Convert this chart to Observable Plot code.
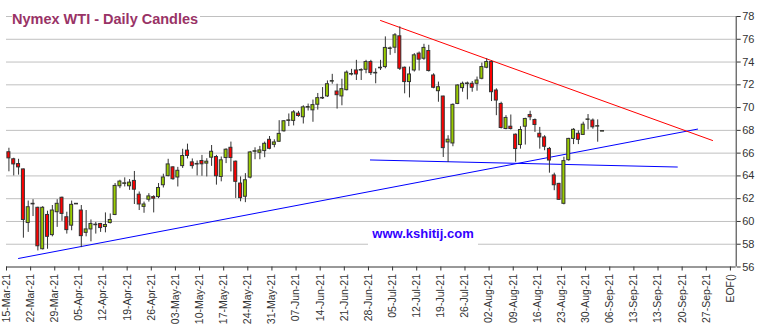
<!DOCTYPE html>
<html><head><meta charset="utf-8">
<script src="https://cdn.jsdelivr.net/npm/d3@7"></script>
<script src="https://cdn.jsdelivr.net/npm/@observablehq/plot@0.6"></script>
<style>
body{margin:0;background:#fff;}
#wrap{position:relative;width:762px;height:332px;font-family:Arial,"Liberation Sans",sans-serif;overflow:hidden;}
#title{position:absolute;left:12px;top:11px;background:#fff;padding:0 2px 0 0;font-weight:bold;font-size:14.5px;line-height:16px;color:#993366;white-space:nowrap;}
#wm{position:absolute;left:368px;top:225px;width:110px;background:#fff;text-align:center;font-weight:bold;font-size:13px;line-height:18px;padding-bottom:3px;color:#3300FF;white-space:nowrap;}
</style></head><body>
<div id="wrap"><div id="chart"></div><div id="title">Nymex WTI - Daily Candles</div><div id="wm">www.kshitij.com</div></div>
<script>
// Daily candles, one per trading-day slot (15-Mar-21 ... 03-Sep-21)
const openP = [66.08,65.46,65.04,64.57,59.86,61.55,61.2,57.56,60.57,58.8,
  60.81,62.08,60.37,59.63,61.5,60.96,59.0,59.3,59.72,59.78,
  59.51,59.86,60.57,63.09,63.3,63.09,63.56,62.35,61.28,61.91,
  62.14,62.14,63.18,63.98,64.75,63.86,64.86,66.22,65.19,65.0,
  65.31,65.08,65.6,65.66,63.91,65.57,66.47,65.25,63.33,62.17,
  63.85,66.12,66.03,66.18,67.17,66.73,67.0,67.92,68.83,68.83,
  69.47,69.15,70.0,69.76,70.25,70.8,70.98,72.28,71.41,70.98,
  71.53,72.9,73.26,73.25,73.32,74.0,73.0,73.45,73.56,75.15,
  75.26,76.26,73.5,72.24,73.26,74.74,74.29,74.97,72.82,71.44,
  70.97,66.94,66.85,70.32,71.71,72.07,72.09,72.09,72.53,73.5,
  74.0,71.5,70.32,68.12,68.32,67.62,66.71,68.32,69.35,68.91,
  67.7,67.38,66.37,64.04,63.3,61.55,65.38,67.25,67.7,67.6,
  68.92,68.86,68.33,67.89];
const highP = [66.43,65.55,65.46,64.6,61.79,61.91,61.25,61.3,60.9,61.4,
  61.91,62.14,60.81,61.79,61.56,61.4,60.96,60.13,59.92,59.83,
  60.75,60.66,63.33,63.62,63.83,63.68,64.39,62.59,61.7,62.44,
  62.26,63.33,64.15,65.46,64.8,64.75,66.34,66.79,65.49,65.31,
  65.8,65.51,66.67,65.8,65.66,66.38,66.97,65.3,63.91,64.2,
  66.15,66.47,66.59,66.97,67.46,67.17,68.85,68.85,69.44,69.73,
  69.67,70.16,70.31,70.66,71.24,71.76,72.34,72.92,72.05,72.49,
  73.22,73.36,74.15,73.41,74.15,74.15,73.41,74.15,76.21,75.32,
  76.5,77.09,73.56,73.56,74.74,74.88,75.56,75.47,72.97,72.24,
  71.0,67.53,70.32,72.0,72.24,72.24,72.29,72.68,73.91,74.29,
  74.09,71.65,70.47,69.29,69.35,67.68,68.32,69.06,69.68,69.0,
  68.26,67.53,66.5,64.24,63.35,65.64,67.3,68.15,67.95,68.72,
  69.39,69.0,68.92,67.9];
const lowP = [64.36,64.0,64.07,58.53,59.04,60.43,57.41,57.5,57.56,58.65,
  59.48,60.01,58.89,59.18,61.49,57.7,58.65,58.21,58.89,59.04,
  59.0,59.78,60.51,62.88,63.03,62.73,61.49,60.96,60.72,61.7,
  60.75,62.0,62.94,63.92,63.62,63.03,64.66,65.49,64.6,64.0,
  63.97,63.91,64.84,63.19,63.48,65.08,64.35,62.02,61.73,61.65,
  63.74,65.42,65.42,65.6,66.3,66.47,66.94,67.84,68.33,68.39,
  69.15,68.56,69.7,68.71,69.78,70.71,70.89,72.05,69.87,70.16,
  71.47,72.78,72.38,72.38,72.97,72.82,72.09,73.26,73.41,74.59,
  74.74,73.26,71.21,70.85,73.12,73.21,74.15,73.12,71.65,70.47,
  65.62,65.18,66.56,70.26,71.35,70.68,71.35,71.44,72.44,73.41,
  70.53,69.29,68.12,68.05,68.03,65.2,66.35,66.71,68.85,67.82,
  66.35,66.21,64.24,62.7,61.84,61.46,65.29,66.75,66.75,67.56,
  68.04,68.1,66.96,67.88];
const closeP = [65.54,65.01,64.75,60.13,61.25,61.5,57.82,61.2,58.65,60.96,
  61.55,60.66,59.24,61.46,61.55,58.71,59.3,59.78,59.67,59.42,
  59.69,60.13,63.12,63.5,63.35,63.41,62.79,61.49,61.49,62.2,
  62.0,62.94,63.86,65.01,63.71,64.45,65.75,65.75,64.86,65.05,
  65.02,65.25,66.12,63.97,65.37,66.3,65.57,63.48,62.05,63.62,
  66.06,66.17,66.24,66.82,66.38,66.94,67.69,68.8,68.88,69.58,
  69.26,70.02,70.05,70.22,70.83,70.85,72.05,72.33,71.09,71.62,
  73.07,72.95,72.91,73.3,74.0,73.03,73.05,73.5,75.24,75.2,
  76.35,73.41,72.24,72.91,74.59,74.21,75.24,73.21,71.74,71.79,
  66.44,67.18,70.24,71.94,72.09,72.12,71.74,72.38,73.56,74.0,
  71.35,70.62,68.21,69.09,68.12,66.36,68.03,69.0,69.15,68.47,
  67.38,66.56,65.35,63.18,61.9,65.3,67.25,68.05,67.17,68.5,
  68.96,68.27,68.37,67.94];

// Category-axis labels, one every 5 trading-day slots
const tickLabels = ["15-Mar-21","22-Mar-21","29-Mar-21","05-Apr-21","12-Apr-21","19-Apr-21","26-Apr-21",
  "03-May-21","10-May-21","17-May-21","24-May-21","31-May-21","07-Jun-21","14-Jun-21","21-Jun-21","28-Jun-21",
  "05-Jul-21","12-Jul-21","19-Jul-21","26-Jul-21","02-Aug-21","09-Aug-21","16-Aug-21","23-Aug-21","30-Aug-21",
  "06-Sep-21","13-Sep-21","13-Sep-21","20-Sep-21","27-Sep-21","EOF()"];
const yTicks = [56,58,60,62,64,66,68,70,72,74,76,78];

// Trend lines (slot position, price)
const redLineX = [77.5, 146.3], redLineY = [77.65, 67.11];
const blueRiseX = [2.49, 143.2], blueRiseY = [56.75, 68.11];
const blueFlatX = [75.4, 139.0], blueFlatY = [65.40, 64.78];

const xEnd = 151.2;
const candles = openP.map((o, i) => ({i, open: o, high: highP[i], low: lowP[i], close: closeP[i]}));
const toPts = (xs, ys) => xs.map((x, k) => ({x, y: ys[k]}));
const tickPos = tickLabels.map((_, k) => k * 5);

const chart = Plot.plot({
  width: 762, height: 332,
  marginLeft: 6, marginRight: 26.3, marginTop: 16, marginBottom: 65.5,
  x: {domain: [0, xEnd], label: null},
  y: {domain: [56, 78], label: null},
  color: {type: "identity"},
  style: {fontFamily: 'Arial, "Liberation Sans", sans-serif', color: "#333", background: "#fff"},
  marks: [
    Plot.ruleY(yTicks.filter(v => v > 56), {stroke: "#c0c0c0", strokeWidth: 1}),
    Plot.ruleY([56], {stroke: "#333"}),
    Plot.ruleX([xEnd], {stroke: "#333"}),
    Plot.axisY(yTicks, {anchor: "right", tickSize: 4, tickPadding: 2, fontSize: 11, label: null}),
    Plot.axisX(tickPos, {anchor: "bottom", tickFormat: d => tickLabels[d / 5], tickRotate: -90, tickSize: 4, tickPadding: 3, fontSize: 10.5, label: null}),
    Plot.line(toPts(blueRiseX, blueRiseY), {x: "x", y: "y", stroke: "#0000FF", strokeWidth: 1}),
    Plot.line(toPts(blueFlatX, blueFlatY), {x: "x", y: "y", stroke: "#0000FF", strokeWidth: 1}),
    Plot.line(toPts(redLineX, redLineY), {x: "x", y: "y", stroke: "#FF0000", strokeWidth: 1}),
    Plot.ruleX(candles.filter(d => d.high - d.low > 0.05), {x: d => d.i + 0.5, y1: "low", y2: "high", stroke: "#333", strokeWidth: 1}),
    Plot.rect(candles, {
      x1: d => d.i + 0.5 - 0.31, x2: d => d.i + 0.5 + 0.31,
      y1: "open", y2: "close",
      fill: d => d.close >= d.open ? "#99CC00" : "#FF0000",
      stroke: "#333", strokeWidth: 1
    })
  ]
});
document.getElementById("chart").appendChild(chart);
</script>
</body></html>
